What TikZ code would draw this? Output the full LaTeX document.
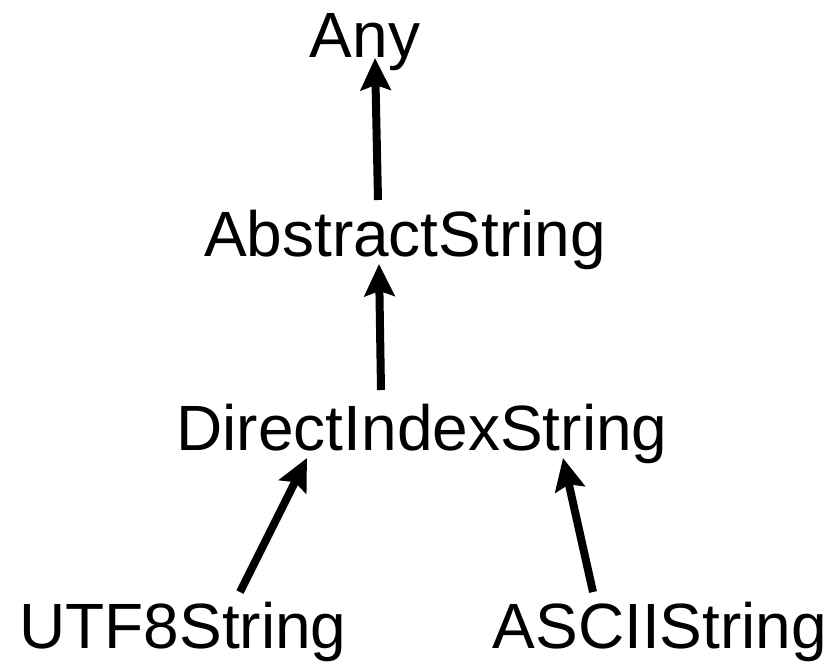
\documentclass[tikz,border=0pt]{standalone}
\usepackage{fontspec}
\setmainfont{Liberation Sans}
\usepackage{tikz}
\usetikzlibrary{arrows.meta}
\tikzset{
    typeName/.style={
		anchor=base, inner sep=0pt, font=\fontsize{64}{70}\selectfont
	}
}
\tikzset{
    subtypeArrow/.style={
		line width=8pt, -{Stealth[length=32pt,width=30pt,inset=5pt]}
	}
}
\begin{document}
\begin{tikzpicture}[x=1pt,y=-1pt]
			\useasboundingbox (0,0) rectangle (831,662);
			\node[typeName] (any) at (365,57) {Any};
			\node[typeName] (abstract) at (405,256) {AbstractString};
			\node[typeName] (direct) at (422,450) {DirectIndexString};
			\node[typeName] (utf) at (183,648) {UTF8String};
			\node[typeName] (ascii) at (660,648) {ASCIIString};
			\draw[subtypeArrow] ([xshift=-27pt,yshift=56pt]abstract.base) -- ([xshift=10pt,yshift=-1pt]any.base);
			\draw[subtypeArrow] ([xshift=-41pt,yshift=60pt]direct.base) -- ([xshift=-26pt,yshift=-8pt]abstract.base);
			\draw[subtypeArrow] ([xshift=57pt,yshift=56pt]utf.base) -- ([xshift=-115pt,yshift=-8pt]direct.base);
			\draw[subtypeArrow] ([xshift=-67pt,yshift=56pt]ascii.base) -- ([xshift=141pt,yshift=-8pt]direct.base);
		\end{tikzpicture}
\end{document}
